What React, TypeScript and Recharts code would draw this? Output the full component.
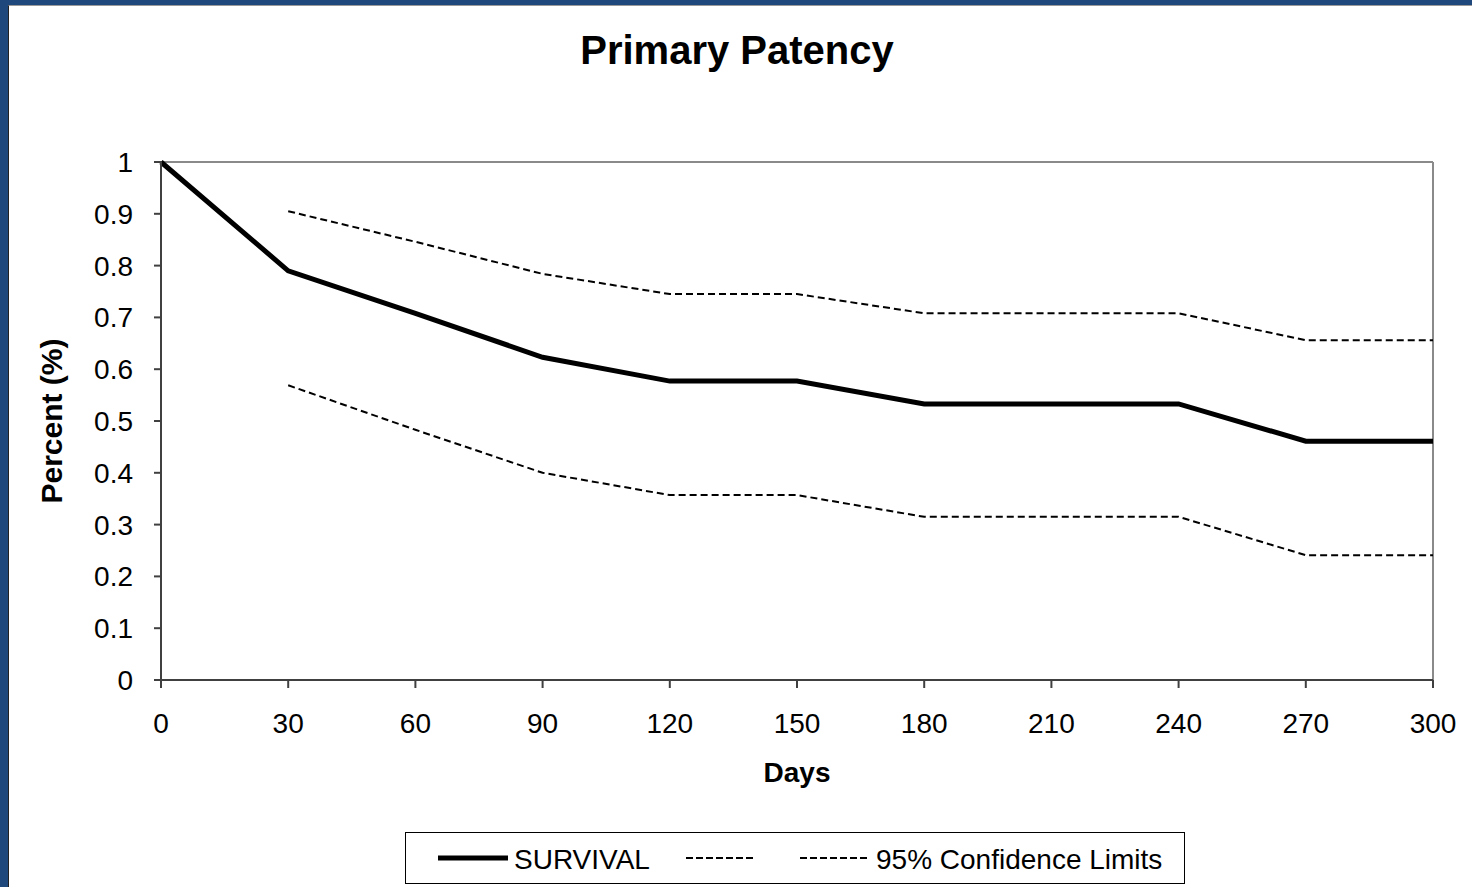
import React from "react";
import { LineChart, Line, XAxis, YAxis, Legend, ReferenceLine } from "recharts";

const days = [0, 30, 60, 90, 120, 150, 180, 210, 240, 270, 300];
const survival = [1, 0.79, 0.708, 0.623, 0.577, 0.577, 0.533, 0.533, 0.533, 0.461, 0.461];
const upperLimit = [null, 0.905, 0.846, 0.784, 0.745, 0.745, 0.708, 0.708, 0.708, 0.656, 0.656];
const lowerLimit = [null, 0.569, 0.483, 0.4, 0.357, 0.357, 0.315, 0.315, 0.315, 0.241, 0.241];
const yTicks = [0, 0.1, 0.2, 0.3, 0.4, 0.5, 0.6, 0.7, 0.8, 0.9, 1];
const yTickLabels = ["0", "0.1", "0.2", "0.3", "0.4", "0.5", "0.6", "0.7", "0.8", "0.9", "1"];
const xTicks = [0, 30, 60, 90, 120, 150, 180, 210, 240, 270, 300];

const chartTitle = "Primary Patency";
const xTitle = "Days";
const yTitle = "Percent (%)";
const seriesNames = ["SURVIVAL", "", "95% Confidence Limits"];

const data = days.map((d, i) => ({
  day: d,
  survival: survival[i],
  upper: upperLimit[i],
  lower: lowerLimit[i],
}));

const FONT = "'Liberation Sans', Arial, Helvetica, sans-serif";
const AXIS = "#404040";
const BORDER = "#8a8a8a";

const LegendBox = () => (
  <svg width={780} height={53} style={{ display: "block" }}>
    <rect x={0.5} y={0.5} width={779} height={51} fill="#fff" stroke="#000" strokeWidth={1} />
    <line x1={33} y1={26} x2={103} y2={26} stroke="#000" strokeWidth={5} />
    <text x={109} y={37} fontFamily={FONT} fontSize={28} fill="#000">{seriesNames[0]}</text>
    <line x1={281} y1={26} x2={349} y2={26} stroke="#000" strokeWidth={2} strokeDasharray="7 3" />
    <line x1={395} y1={26} x2={463} y2={26} stroke="#000" strokeWidth={2} strokeDasharray="7 3" />
    <text x={471} y={37} fontFamily={FONT} fontSize={28} fill="#000">{seriesNames[2]}</text>
  </svg>
);

export default function App() {
  return (
    <div
      style={{
        position: "absolute",
        left: 0,
        top: 0,
        width: 1472,
        height: 887,
        background: "#1F497D",
        overflow: "hidden",
      }}
    >
      <div
        style={{
          position: "absolute",
          left: 8,
          top: 5,
          width: 1464,
          height: 882,
          background: "#ffffff",
          borderLeft: "1px solid #222",
          borderTop: "1px solid #9a9a9a",
          boxSizing: "border-box",
        }}
      />
      <div
        style={{
          position: "absolute",
          left: 437,
          top: 30,
          width: 600,
          textAlign: "center",
          fontFamily: FONT,
          fontWeight: "bold",
          fontSize: 40,
          lineHeight: "40px",
          color: "#000",
        }}
      >
        {chartTitle}
      </div>
      <div style={{ position: "absolute", left: 0, top: 0 }}>
        <LineChart
          width={1472}
          height={887}
          data={data}
          margin={{ top: 162, right: 39, left: 0, bottom: 167 }}
        >
          <XAxis
            dataKey="day"
            type="number"
            domain={[0, 300]}
            ticks={xTicks}
            interval={0}
            height={40}
            tickSize={8}
            tickMargin={25}
            axisLine={{ stroke: AXIS, strokeWidth: 2 }}
            tickLine={{ stroke: AXIS, strokeWidth: 2 }}
            tick={{ fill: "#000", fontSize: 28, fontFamily: FONT }}
            label={(props: any) => {
              const vb = props.viewBox || { x: 161, y: 680, width: 1272 };
              return (
                <text
                  x={vb.x + vb.width / 2}
                  y={vb.y + 102}
                  textAnchor="middle"
                  fontFamily={FONT}
                  fontWeight="bold"
                  fontSize={28}
                  fill="#000"
                >
                  {xTitle}
                </text>
              );
            }}
          />
          <YAxis
            type="number"
            domain={[0, 1]}
            ticks={yTicks}
            interval={0}
            width={161}
            tickSize={7}
            tickMargin={21}
            tickFormatter={(v: number) => yTickLabels[yTicks.indexOf(v)] ?? String(v)}
            axisLine={{ stroke: AXIS, strokeWidth: 2 }}
            tickLine={{ stroke: AXIS, strokeWidth: 2 }}
            tick={{ fill: "#000", fontSize: 28, fontFamily: FONT }}
            label={(props: any) => {
              const vb = props.viewBox || { x: 0, y: 162, width: 161, height: 518 };
              const cx = vb.x + 62;
              const cy = vb.y + vb.height / 2;
              return (
                <text
                  x={cx}
                  y={cy}
                  transform={`rotate(-90 ${cx} ${cy})`}
                  textAnchor="middle"
                  fontFamily={FONT}
                  fontWeight="bold"
                  fontSize={30}
                  fill="#000"
                >
                  {yTitle}
                </text>
              );
            }}
          />
          <ReferenceLine y={1} stroke={BORDER} strokeWidth={2} ifOverflow="extendDomain" />
          <ReferenceLine x={300} stroke={BORDER} strokeWidth={2} ifOverflow="extendDomain" />
          <Line
            dataKey="upper"
            name={seriesNames[1]}
            type="linear"
            stroke="#000"
            strokeWidth={2}
            strokeDasharray="7 4"
            dot={false}
            activeDot={false}
            isAnimationActive={false}
          />
          <Line
            dataKey="lower"
            name={seriesNames[2]}
            type="linear"
            stroke="#000"
            strokeWidth={2}
            strokeDasharray="7 4"
            dot={false}
            activeDot={false}
            isAnimationActive={false}
          />
          <Line
            dataKey="survival"
            name={seriesNames[0]}
            type="linear"
            stroke="#000"
            strokeWidth={5}
            dot={false}
            activeDot={false}
            isAnimationActive={false}
          />
          <Legend
            layout="horizontal"
            verticalAlign="middle"
            align="center"
            content={() => <LegendBox />}
            wrapperStyle={{ position: "absolute", left: 405, top: 832, width: 780, height: 53 }}
          />
        </LineChart>
      </div>
    </div>
  );
}
